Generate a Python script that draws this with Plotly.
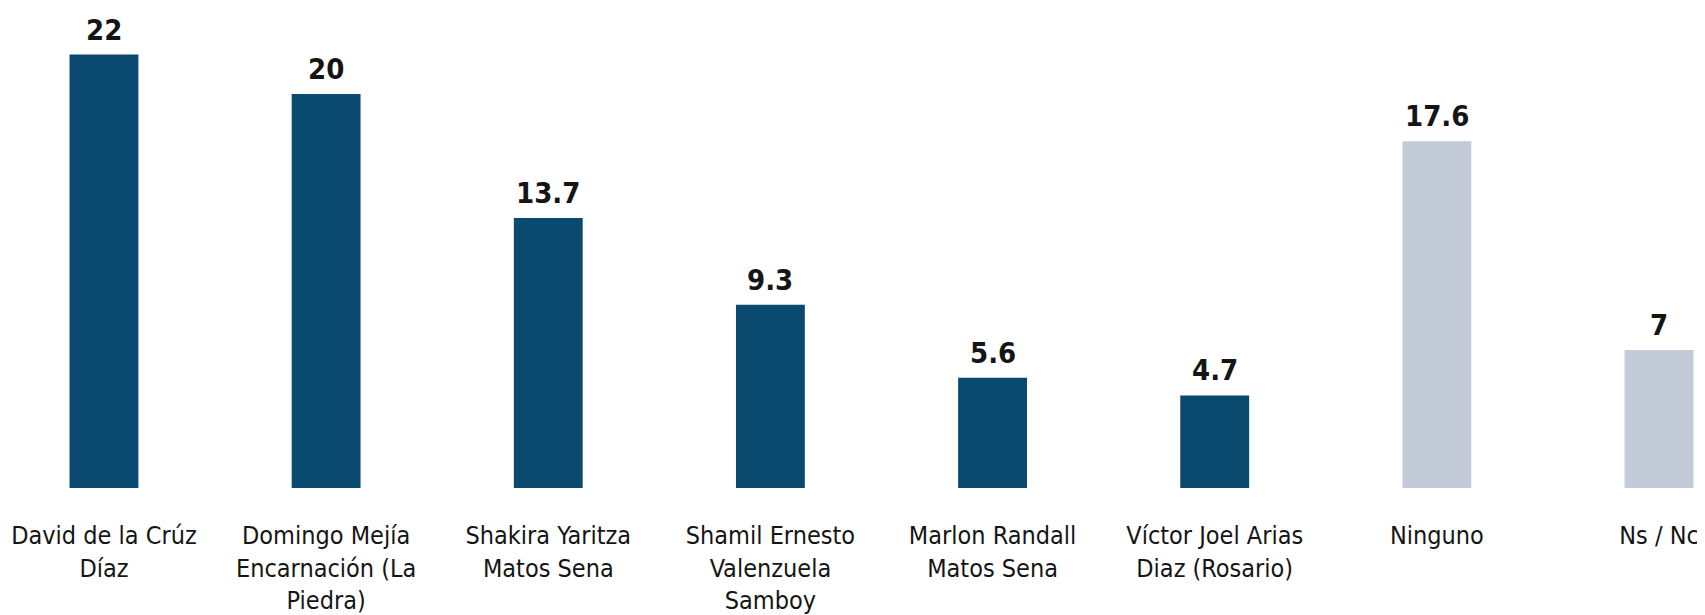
import plotly.graph_objects as go

categories = [
    "David de la Crúz Díaz",
    "Domingo Mejía Encarnación (La Piedra)",
    "Shakira Yaritza Matos Sena",
    "Shamil Ernesto Valenzuela Samboy",
    "Marlon Randall Matos Sena",
    "Víctor Joel Arias Diaz (Rosario)",
    "Ninguno",
    "Ns / Nc",
]
tick_labels = [
    "David de la Crúz<br>Díaz",
    "Domingo Mejía<br>Encarnación (La<br>Piedra)",
    "Shakira Yaritza<br>Matos Sena",
    "Shamil Ernesto<br>Valenzuela<br>Samboy",
    "Marlon Randall<br>Matos Sena",
    "Víctor Joel Arias<br>Diaz (Rosario)",
    "Ninguno",
    "Ns / Nc",
]
values = [22, 20, 13.7, 9.3, 5.6, 4.7, 17.6, 7]
value_text = ["22", "20", "13.7", "9.3", "5.6", "4.7", "17.6", "7"]

DARK = "#0b4a6f"
GRAY = "#c3cbd8"
colors = [DARK] * 6 + [GRAY] * 2

FONT = "DejaVu Sans Condensed, Roboto, sans-serif"

fig = go.Figure()
fig.add_trace(go.Bar(
    x=categories,
    y=values,
    marker=dict(color=colors, line=dict(width=0)),
    width=0.31,
    hoverinfo="skip",
))

for c, v, t in zip(categories, values, value_text):
    fig.add_annotation(
        x=c, y=v, text="<b>" + t + "</b>", showarrow=False,
        yanchor="bottom", yshift=6,
        font=dict(family=FONT, size=29, color="#151515"),
    )

fig.update_layout(
    width=1697, height=607,
    margin=dict(l=0, r=0, t=3, b=127),
    paper_bgcolor="white", plot_bgcolor="white",
    showlegend=False,
    xaxis=dict(
        type="category",
        range=[-0.432, 7.207],
        tickmode="array",
        tickvals=categories,
        ticktext=tick_labels,
        tickfont=dict(family=FONT, size=25, color="#151515"),
        showgrid=False, zeroline=False, showline=False, ticks="",
        ticklabelstandoff=30,
        automargin=False,
    ),
    yaxis=dict(
        range=[0, 24.21],
        visible=False, showgrid=False, zeroline=False,
    ),
)

fig.write_html("out.html")
